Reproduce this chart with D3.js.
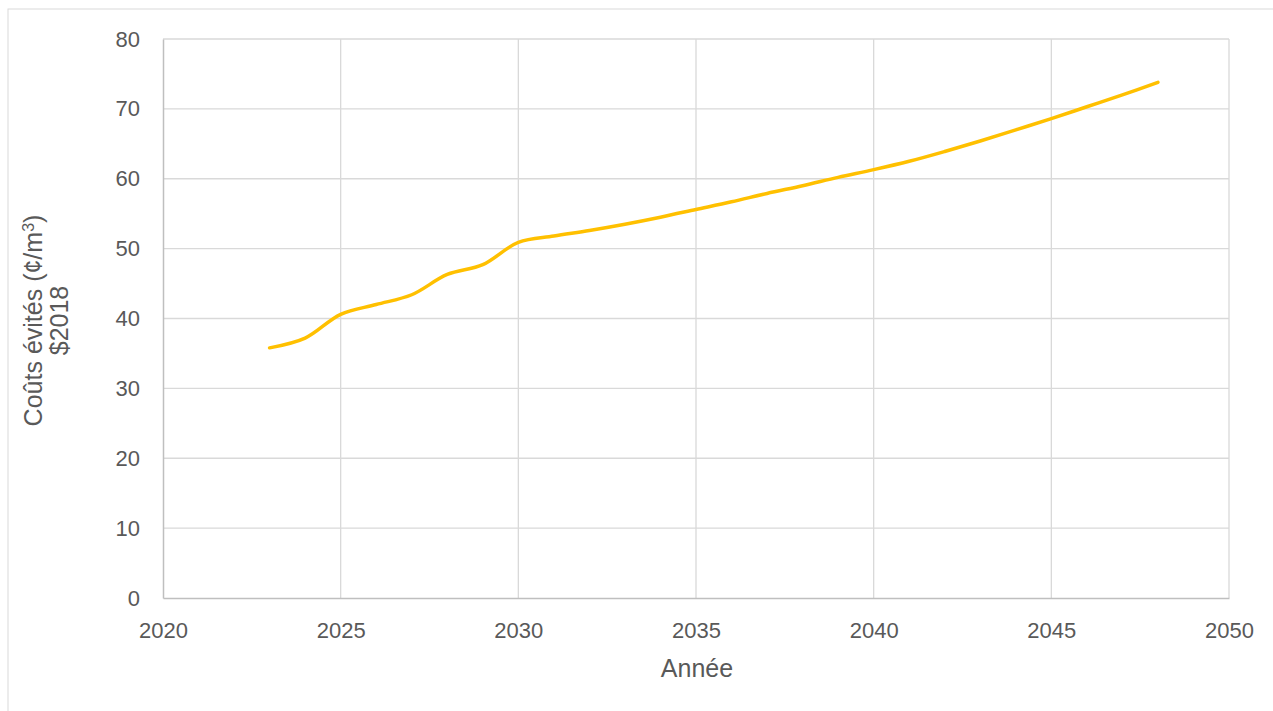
<!DOCTYPE html>
<html>
<head>
<meta charset="utf-8">
<script src="https://cdn.jsdelivr.net/npm/d3@7"></script>
<style>
  html, body { margin: 0; padding: 0; background: #fff; }
  svg text { font-family: "Liberation Sans", Arial, sans-serif; fill: #595959; }
</style>
</head>
<body>
<svg id="chart" width="1273" height="711"></svg>
<script>
/* ── Data ─────────────────────────────────────────────────────────── */
const years = [2023, 2024, 2025, 2026, 2027, 2028, 2029, 2030, 2031, 2032, 2033,
               2034, 2035, 2036, 2037, 2038, 2039, 2040, 2041, 2042, 2043, 2044,
               2045, 2046, 2047, 2048];
const avoidedCosts = [35.8, 37.2, 40.6, 42.0, 43.4, 46.3, 47.7, 50.9, 51.8, 52.6, 53.5,
                      54.5, 55.6, 56.7, 57.9, 59.0, 60.2, 61.3, 62.5, 63.9, 65.4, 67.0,
                      68.6, 70.3, 72.0, 73.8];
const xTicks = [2020, 2025, 2030, 2035, 2040, 2045, 2050];
const yTicks = [0, 10, 20, 30, 40, 50, 60, 70, 80];

/* ── Layout ───────────────────────────────────────────────────────── */
const W = 1273, H = 711;
const M = { left: 163, right: 1229, top: 39, bottom: 598 };

const svg = d3.select('#chart');

// outer chart frame
svg.append('rect')
  .attr('x', 8).attr('y', 9)
  .attr('width', W).attr('height', H)
  .attr('fill', 'none')
  .attr('stroke', '#d9d9d9')
  .attr('stroke-width', 1);

const x = d3.scaleLinear().domain([2020, 2050]).range([M.left, M.right]);
const y = d3.scaleLinear().domain([0, 80]).range([M.bottom, M.top]);

// gridlines
svg.append('g')
  .selectAll('line').data(yTicks.filter(v => v > 0)).join('line')
  .attr('x1', M.left).attr('x2', M.right)
  .attr('y1', d => y(d)).attr('y2', d => y(d))
  .attr('stroke', '#d9d9d9').attr('stroke-width', 1.3);

svg.append('g')
  .selectAll('line').data(xTicks.filter(v => v > 2020)).join('line')
  .attr('x1', d => x(d)).attr('x2', d => x(d))
  .attr('y1', M.top).attr('y2', M.bottom)
  .attr('stroke', '#d9d9d9').attr('stroke-width', 1.3);

// axes
const xAxis = svg.append('g')
  .attr('transform', `translate(0,${M.bottom})`)
  .call(d3.axisBottom(x).tickValues(xTicks).tickFormat(d3.format('d')).tickSize(0).tickPadding(24));
xAxis.select('.domain').attr('stroke', '#bfbfbf').attr('stroke-width', 1.5);
xAxis.selectAll('text').attr('font-size', '22px').attr('fill', '#595959');

const yAxis = svg.append('g')
  .attr('transform', `translate(${M.left},0)`)
  .call(d3.axisLeft(y).tickValues(yTicks).tickSize(0).tickPadding(23));
yAxis.select('.domain').attr('stroke', '#bfbfbf').attr('stroke-width', 1.5);
yAxis.selectAll('text').attr('font-size', '22px').attr('fill', '#595959');

// axis titles
svg.append('text')
  .attr('x', (M.left + M.right) / 2 + 1).attr('y', 677)
  .attr('text-anchor', 'middle')
  .attr('font-size', '25px')
  .text('Année');

const yTitle = svg.append('text')
  .attr('transform', `translate(42,${(M.top + M.bottom) / 2 + 2}) rotate(-90)`)
  .attr('text-anchor', 'middle')
  .attr('font-size', '25px');
yTitle.append('tspan').attr('x', 0).attr('dy', 0).text('Coûts évités (¢/m')
  .append('tspan').attr('baseline-shift', 'super').attr('font-size', '16px').text('3');
yTitle.append('tspan').text(')');
yTitle.append('tspan').attr('x', 0).attr('dy', 26).text('$2018');

// series
const pts = years.map((yr, i) => [yr, avoidedCosts[i]]);
svg.append('path')
  .datum(pts)
  .attr('fill', 'none')
  .attr('stroke', '#FFC000')
  .attr('stroke-width', 3.5)
  .attr('stroke-linecap', 'round')
  .attr('d', d3.line().x(d => x(d[0])).y(d => y(d[1])).curve(d3.curveCatmullRom.alpha(0.5)));
</script>
</body>
</html>
